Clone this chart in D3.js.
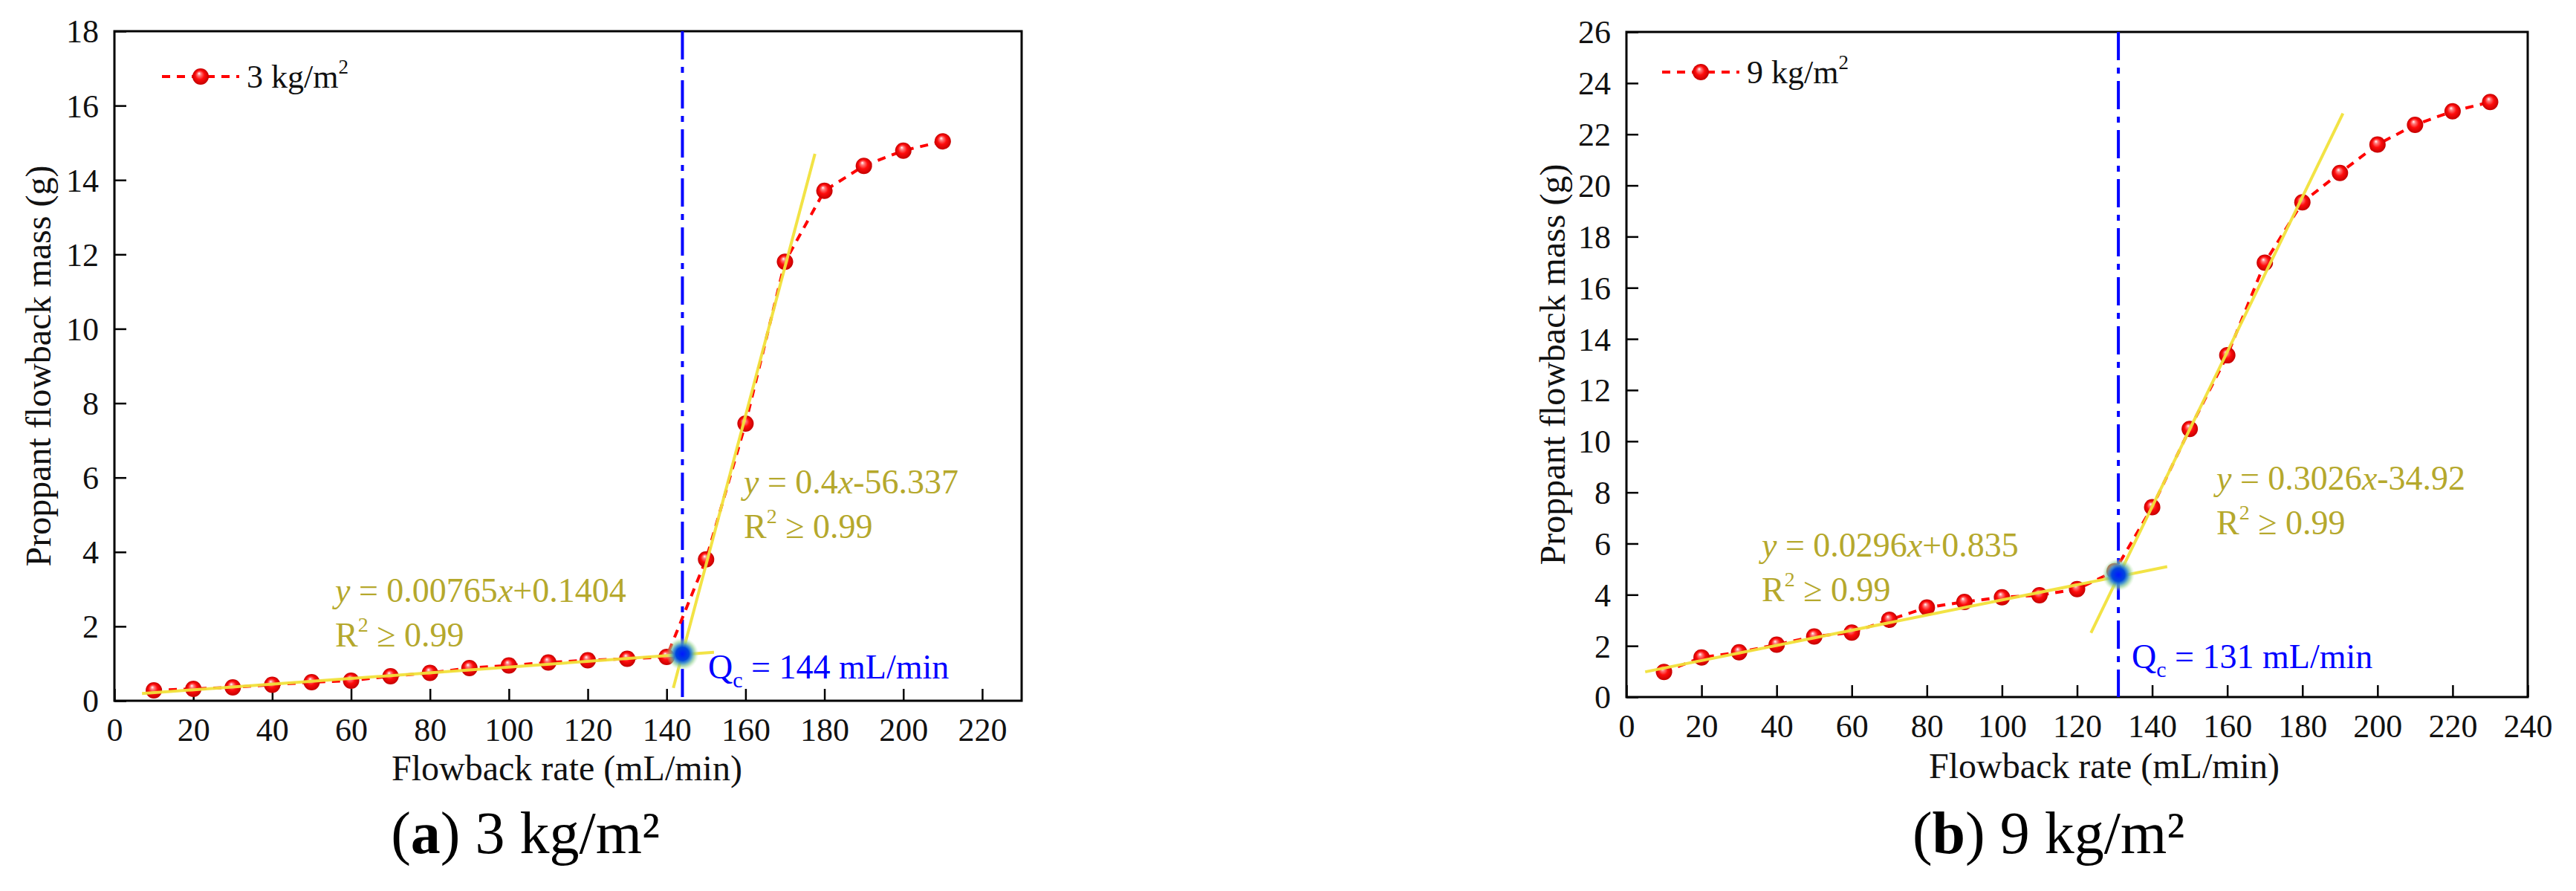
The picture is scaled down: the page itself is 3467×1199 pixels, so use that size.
<!DOCTYPE html>
<html>
<head>
<meta charset="utf-8">
<script src="https://cdn.jsdelivr.net/npm/d3@7"></script>
<style>
  body { margin: 0; background: #fff; }
  text { font-family: "Times New Roman", "Liberation Serif", serif; }
</style>
</head>
<body>
<script>
"use strict";
(function(){
  // ---- data ----
  const rateA = [10,20,30,40,50,60,70,80,90,100,110,120,130,140,150,160,170,180,190,200,210];
  const massA = [0.28,0.32,0.36,0.43,0.50,0.54,0.66,0.75,0.88,0.95,1.03,1.09,1.13,1.18,3.80,7.45,11.8,13.71,14.38,14.79,15.04];
  const rateB = [10,20,30,40,50,60,70,80,90,100,110,120,130,140,150,160,170,180,190,200,210,220,230];
  const massB = [0.98,1.55,1.75,2.05,2.37,2.52,3.02,3.50,3.72,3.90,3.98,4.22,4.92,7.42,10.48,13.36,16.98,19.34,20.49,21.60,22.37,22.90,23.26];

  // fitted lines: [slope, intercept] and the x span they are drawn over
  const fitLowA = [0.00765, 0.1404], spanLowA = [7, 152];
  const fitHighA = [0.4, -56.337], spanHighA = [141.7, 177.6];
  const fitLowB = [0.0296, 0.835], spanLowB = [5, 144];
  const fitHighB = [0.3026, -34.92], spanHighB = [123.7, 190.8];

  // critical flowback rate points
  const qcA = [144, 1.26];
  const qcB = [131, 4.78];

  const xTicksA = [0,20,40,60,80,100,120,140,160,180,200,220];
  const xTicksB = [0,20,40,60,80,100,120,140,160,180,200,220,240];
  const yTicksA = [0,2,4,6,8,10,12,14,16,18];
  const yTicksB = [0,2,4,6,8,10,12,14,16,18,20,22,24,26];

  const eqColor = "#b5a82c";
  const fitColor = "#f2e23c";

  const svg = d3.select("body").append("svg")
      .attr("width", 3467)
      .attr("height", 1199);

  svg.append("rect").attr("width", 3467).attr("height", 1199).attr("fill", "#fff");

  const defs = svg.append("defs");
  const ball = defs.append("radialGradient").attr("id", "ball")
      .attr("cx", "50%").attr("cy", "50%").attr("r", "50%")
      .attr("fx", "40%").attr("fy", "30%");
  ball.append("stop").attr("offset", "0%").attr("stop-color", "#ffffff");
  ball.append("stop").attr("offset", "22%").attr("stop-color", "#ff7a7a");
  ball.append("stop").attr("offset", "55%").attr("stop-color", "#ff0c0c");
  ball.append("stop").attr("offset", "100%").attr("stop-color", "#c40000");

  const glow = defs.append("radialGradient").attr("id", "glow");
  glow.append("stop").attr("offset", "0%").attr("stop-color", "#0018ff");
  glow.append("stop").attr("offset", "40%").attr("stop-color", "#0046dd");
  glow.append("stop").attr("offset", "58%").attr("stop-color", "#3a8fc8").attr("stop-opacity", 0.9);
  glow.append("stop").attr("offset", "78%").attr("stop-color", "#8fd08f").attr("stop-opacity", 0.6);
  glow.append("stop").attr("offset", "100%").attr("stop-color", "#d0f0c8").attr("stop-opacity", 0);

  const panels = [
    {
      rate: rateA, mass: massA, fits: [[fitLowA, spanLowA], [fitHighA, spanHighA]], qc: qcA,
      xDomain: [0, 230], yDomain: [0, 18], xTicks: xTicksA, yTicks: yTicksA,
      left: 154, right: 1375, top: 42, bottom: 943,
      legend: "3 kg/m", legendX: 218, legendY: 103,
      eqLow: {x: 451, y: 810, text: "0.00765", op: "+", rest: "0.1404"},
      eqHigh: {x: 1001, y: 664, text: "0.4", op: "-", rest: "56.337"},
      qcLabel: {x: 953, y: 913, value: "144"},
      yTitleX: 68, xTitleX: 763, xTitleY: 1050,
      caption: "a", capNum: "3", capX: 707
    },
    {
      rate: rateB, mass: massB, fits: [[fitLowB, spanLowB], [fitHighB, spanHighB]], qc: qcB,
      xDomain: [0, 240], yDomain: [0, 26], xTicks: xTicksB, yTicks: yTicksB,
      left: 2189, right: 3402, top: 43, bottom: 938,
      legend: "9 kg/m", legendX: 2237, legendY: 97,
      eqLow: {x: 2371, y: 749, text: "0.0296", op: "+", rest: "0.835"},
      eqHigh: {x: 2983, y: 659, text: "0.3026", op: "-", rest: "34.92"},
      qcLabel: {x: 2869, y: 899, value: "131"},
      yTitleX: 2106, xTitleX: 2832, xTitleY: 1047,
      caption: "b", capNum: "9", capX: 2757
    }
  ];

  panels.forEach(drawPanel);

  function drawPanel(p) {
    const x = d3.scaleLinear().domain(p.xDomain).range([p.left, p.right]);
    const y = d3.scaleLinear().domain(p.yDomain).range([p.bottom, p.top]);
    const g = svg.append("g");

    // axes with inward ticks
    const xAxis = d3.axisBottom(x).tickValues(p.xTicks).tickSize(-16).tickSizeOuter(0);
    const gx = g.append("g").attr("transform", `translate(0,${p.bottom})`).call(xAxis);
    gx.select(".domain").remove();
    gx.selectAll("line").attr("stroke", "#000").attr("stroke-width", 2.5);
    gx.selectAll("text").attr("y", 54).attr("dy", null)
        .attr("font-size", 44).attr("fill", "#111")
        .style("font-family", '"Times New Roman", "Liberation Serif", serif');

    const yAxis = d3.axisLeft(y).tickValues(p.yTicks).tickSize(-16).tickSizeOuter(0);
    const gy = g.append("g").attr("transform", `translate(${p.left},0)`).call(yAxis);
    gy.select(".domain").remove();
    gy.selectAll("line").attr("stroke", "#000").attr("stroke-width", 2.5);
    gy.selectAll("text").attr("x", -21).attr("dy", "0.34em")
        .attr("font-size", 44).attr("fill", "#111")
        .style("font-family", '"Times New Roman", "Liberation Serif", serif');

    g.append("rect")
        .attr("x", p.left).attr("y", p.top)
        .attr("width", p.right - p.left).attr("height", p.bottom - p.top)
        .attr("fill", "none").attr("stroke", "#000").attr("stroke-width", 3);

    // vertical critical rate line
    g.append("line")
        .attr("x1", x(p.qc[0])).attr("x2", x(p.qc[0]))
        .attr("y1", p.top).attr("y2", p.bottom)
        .attr("stroke", "#0000ff").attr("stroke-width", 4)
        .attr("stroke-dasharray", "38,10,8,10");

    // data line + markers
    const pts = p.rate.map((r, i) => [r, p.mass[i]]);
    const line = d3.line().x(d => x(d[0])).y(d => y(d[1]));
    g.append("path").datum(pts)
        .attr("d", line)
        .attr("fill", "none").attr("stroke", "#ff0000")
        .attr("stroke-width", 4).attr("stroke-dasharray", "11,9");

    g.selectAll(".pt").data(pts).enter().append("circle")
        .attr("class", "pt")
        .attr("cx", d => x(d[0])).attr("cy", d => y(d[1]))
        .attr("r", 11).attr("fill", "url(#ball)");

    // fit lines
    p.fits.forEach(f => {
      const coef = f[0], span = f[1];
      g.append("line")
          .attr("x1", x(span[0])).attr("y1", y(coef[0] * span[0] + coef[1]))
          .attr("x2", x(span[1])).attr("y2", y(coef[0] * span[1] + coef[1]))
          .attr("stroke", fitColor).attr("stroke-width", 4).attr("opacity", 0.95);
    });

    // glowing intersection point
    g.append("circle")
        .attr("cx", x(p.qc[0])).attr("cy", y(p.qc[1]))
        .attr("r", 22).attr("fill", "url(#glow)");

    // legend
    const lg = g.append("g");
    lg.append("line")
        .attr("x1", p.legendX).attr("x2", p.legendX + 104)
        .attr("y1", p.legendY).attr("y2", p.legendY)
        .attr("stroke", "#ff0000").attr("stroke-width", 4).attr("stroke-dasharray", "11,9");
    lg.append("circle")
        .attr("cx", p.legendX + 52).attr("cy", p.legendY)
        .attr("r", 11).attr("fill", "url(#ball)");
    const lt = lg.append("text")
        .attr("x", p.legendX + 114).attr("y", p.legendY + 15)
        .attr("font-size", 44).attr("fill", "#111");
    lt.append("tspan").text(p.legend);
    lt.append("tspan").attr("font-size", 27).attr("dy", -19).text("2");

    // equations
    [p.eqLow, p.eqHigh].forEach(e => {
      const t = g.append("text").attr("x", e.x).attr("y", e.y)
          .attr("font-size", 46).attr("fill", eqColor);
      t.append("tspan").attr("font-style", "italic").text("y");
      t.append("tspan").text(" = " + e.text);
      t.append("tspan").attr("font-style", "italic").text("x");
      t.append("tspan").text(e.op + e.rest);

      const r = g.append("text").attr("x", e.x).attr("y", e.y + 60)
          .attr("font-size", 46).attr("fill", eqColor);
      r.append("tspan").text("R");
      r.append("tspan").attr("font-size", 28).attr("dy", -20).text("2");
      r.append("tspan").attr("dy", 20).text(" \u2265 0.99");
    });

    // Qc label
    const q = g.append("text").attr("x", p.qcLabel.x).attr("y", p.qcLabel.y)
        .attr("font-size", 46).attr("fill", "#0000ff");
    q.append("tspan").text("Q");
    q.append("tspan").attr("font-size", 30).attr("dy", 12).text("c");
    q.append("tspan").attr("dy", -12).text(" = " + p.qcLabel.value + " mL/min");

    // axis titles
    g.append("text")
        .attr("transform", `translate(${p.yTitleX},${(p.top + p.bottom) / 2}) rotate(-90)`)
        .attr("text-anchor", "middle").attr("font-size", 48).attr("fill", "#111")
        .text("Proppant flowback mass (g)");
    g.append("text")
        .attr("x", p.xTitleX).attr("y", p.xTitleY)
        .attr("text-anchor", "middle").attr("font-size", 48).attr("fill", "#111")
        .text("Flowback rate (mL/min)");

    // caption
    const c = g.append("text")
        .attr("x", p.capX).attr("y", 1148)
        .attr("text-anchor", "middle").attr("font-size", 80).attr("fill", "#000");
    c.append("tspan").text("(");
    c.append("tspan").attr("font-weight", "bold").text(p.caption);
    c.append("tspan").text(") " + p.capNum + " kg/m\u00b2");
  }
})()
</script>
</body>
</html>
